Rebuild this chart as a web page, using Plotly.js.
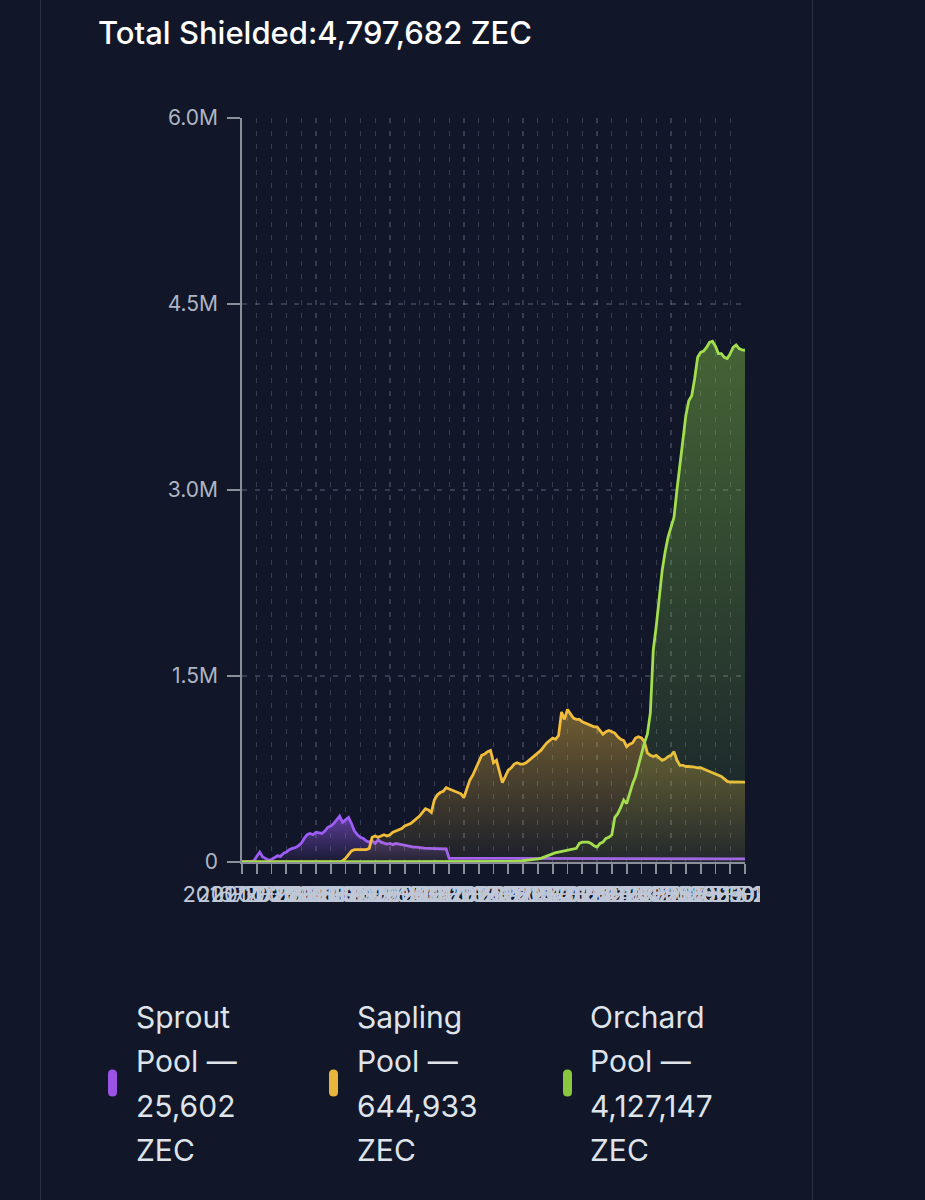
<!DOCTYPE html>
<html>
<head>
<meta charset="utf-8">
<script src="https://cdn.plot.ly/plotly-3.0.1.min.js"></script>
<style>
  html, body { margin:0; padding:0; background:#111729; width:925px; height:1200px; overflow:hidden; }
  .border { position:absolute; top:0; width:1px; height:1200px; background:#2b3244; }
  #chart { position:absolute; left:0; top:0; width:760px; height:1200px; overflow:hidden; }
</style>
</head>
<body>
<div class="border" style="left:40px"></div>
<div class="border" style="left:812px"></div>
<div id="chart"></div>
<script>
// ---- Data (values in millions of ZEC) ----
const sproutPool = [
  0, 0, 0.002, 0.005, 0.01, 0.05, 0.08, 0.04, 0.03, 0.015,
  0.02, 0.035, 0.05, 0.045, 0.07, 0.08, 0.1, 0.11, 0.115, 0.13,
  0.15, 0.19, 0.22, 0.23, 0.22, 0.24, 0.235, 0.23, 0.25, 0.28,
  0.29, 0.31, 0.34, 0.37, 0.32, 0.34, 0.36, 0.31, 0.25, 0.22,
  0.2, 0.19, 0.17, 0.16, 0.17, 0.15, 0.18, 0.16, 0.15, 0.145,
  0.15, 0.14, 0.15, 0.145, 0.14, 0.13, 0.13, 0.125, 0.12, 0.12,
  0.115, 0.115, 0.11, 0.11, 0.11, 0.108, 0.107, 0.106, 0.105, 0.105,
  0.03, 0.03, 0.03, 0.03, 0.03, 0.03, 0.03, 0.03, 0.03, 0.03,
  0.03, 0.03, 0.03, 0.03, 0.03, 0.03, 0.03, 0.03, 0.03, 0.03,
  0.03, 0.03, 0.03, 0.03, 0.03, 0.03, 0.03, 0.03, 0.03, 0.03,
  0.029, 0.029, 0.029, 0.029, 0.029, 0.029, 0.029, 0.029, 0.029, 0.029,
  0.029, 0.029, 0.029, 0.029, 0.029, 0.029, 0.029, 0.029, 0.029, 0.029,
  0.028, 0.028, 0.028, 0.028, 0.028, 0.028, 0.028, 0.028, 0.028, 0.028,
  0.028, 0.028, 0.028, 0.028, 0.028, 0.028, 0.028, 0.028, 0.028, 0.028,
  0.027, 0.027, 0.027, 0.027, 0.027, 0.027, 0.027, 0.027, 0.027, 0.027,
  0.026, 0.026, 0.026, 0.026, 0.026, 0.026, 0.026, 0.026, 0.026, 0.026,
  0.026, 0.026, 0.026, 0.026, 0.026, 0.026, 0.026, 0.026, 0.026, 0.026,
  0.0256
];
const saplingPool = [
  0, 0, 0, 0, 0, 0, 0, 0, 0, 0,
  0, 0, 0, 0, 0, 0, 0, 0, 0, 0,
  0, 0, 0, 0, 0, 0, 0, 0, 0, 0,
  0, 0, 0, 0, 0.01, 0.03, 0.06, 0.09, 0.1, 0.1,
  0.1, 0.1, 0.1, 0.11, 0.2, 0.21, 0.2, 0.21, 0.22, 0.21,
  0.22, 0.24, 0.25, 0.26, 0.27, 0.29, 0.3, 0.31, 0.33, 0.35,
  0.37, 0.4, 0.43, 0.42, 0.4, 0.5, 0.54, 0.56, 0.57, 0.6,
  0.59, 0.58, 0.57, 0.56, 0.55, 0.52, 0.6, 0.66, 0.7, 0.75,
  0.8, 0.86, 0.87, 0.89, 0.9, 0.8, 0.82, 0.72, 0.64, 0.69,
  0.74, 0.76, 0.79, 0.8, 0.79, 0.79, 0.8, 0.82, 0.84, 0.86,
  0.88, 0.9, 0.93, 0.96, 0.98, 1.0, 0.99, 1.02, 1.21, 1.15,
  1.23, 1.19, 1.16, 1.15, 1.15, 1.13, 1.12, 1.11, 1.1, 1.09,
  1.09, 1.06, 1.03, 1.05, 1.06, 1.05, 1.04, 1.01, 0.99, 0.98,
  0.93, 0.95, 0.96, 1.0, 1.01, 1.0, 0.97, 0.88, 0.86, 0.85,
  0.86, 0.84, 0.82, 0.83, 0.85, 0.86, 0.89, 0.82, 0.78, 0.78,
  0.77, 0.77, 0.77, 0.765, 0.76, 0.76, 0.75, 0.74, 0.73, 0.72,
  0.71, 0.7, 0.69, 0.67, 0.65, 0.645, 0.645, 0.645, 0.645, 0.645,
  0.6449
];
const orchardPool = [
  0, 0, 0, 0, 0, 0, 0, 0, 0, 0,
  0, 0, 0, 0, 0, 0, 0, 0, 0, 0,
  0, 0, 0, 0, 0, 0, 0, 0, 0, 0,
  0, 0, 0, 0, 0, 0, 0, 0, 0, 0,
  0, 0, 0, 0, 0, 0, 0, 0, 0, 0,
  0, 0, 0, 0, 0, 0, 0, 0, 0, 0,
  0, 0, 0, 0, 0, 0, 0, 0, 0, 0,
  0, 0, 0, 0, 0, 0, 0, 0, 0, 0,
  0, 0, 0, 0, 0, 0, 0, 0, 0, 0,
  0, 0, 0.002, 0.004, 0.006, 0.01, 0.012, 0.015, 0.015, 0.02,
  0.025, 0.03, 0.04, 0.05, 0.06, 0.07, 0.075, 0.08, 0.085, 0.09,
  0.1, 0.1, 0.105, 0.11, 0.15, 0.16, 0.16, 0.16, 0.15, 0.13,
  0.12, 0.15, 0.16, 0.19, 0.2, 0.22, 0.36, 0.39, 0.44, 0.5,
  0.47, 0.56, 0.63, 0.69, 0.77, 0.87, 0.96, 1.03, 1.2, 1.71,
  1.9, 2.12, 2.35, 2.5, 2.62, 2.7, 2.78, 3.0, 3.2, 3.38,
  3.6, 3.72, 3.76, 3.9, 4.07, 4.11, 4.12, 4.15, 4.19, 4.2,
  4.16, 4.1, 4.1, 4.07, 4.06, 4.1, 4.15, 4.17, 4.14, 4.13,
  4.1271
];
// x tick labels (one every 5 data points)
const xTickLabels = [
  "2016-10-28","2017-02-10","2017-05-25","2017-09-06","2017-12-19",
  "2018-04-02","2018-07-15","2018-10-27","2019-02-08","2019-05-23",
  "2019-09-04","2019-12-17","2020-03-30","2020-07-12","2020-10-24",
  "2021-02-05","2021-05-20","2021-09-01","2021-12-14","2022-03-28",
  "2022-07-10","2022-10-22","2023-02-03","2023-05-18","2023-08-30",
  "2023-12-12","2024-03-25","2024-07-07","2024-10-19","2025-01-31",
  "2025-05-15","2025-08-01","2025-09-20","2025-10-20","2025-11-10"
];
const yTickVals = [0, 1.5, 3.0, 4.5, 6.0];
const yTickLabels = ["0", "1.5M", "3.0M", "4.5M", "6.0M"];
const poolNames = ["Sprout", "Sapling", "Orchard"];
const poolTotals = ["25,602", "644,933", "4,127,147"];
const totalShielded = "4,797,682";

// ---- Styling ----
const FONT = 'Inter, "Noto Sans", sans-serif';
const lineColors = ["#9d5cf5", "#f3bd3c", "#a3de4e"];
const pillColors = ["#9b53e6", "#e8b53c", "#8cc63e"];
const rgbs = ["157,92,245", "243,189,60", "140,205,70"];
const topAlpha = [0.55, 0.42, 0.42];
const series = [sproutPool, saplingPool, orchardPool];

// plot area in px (for placing legend items)
const L = 242, R = 745, T = 118, B = 862;
const px = x => (x - L) / (R - L);
const py = y => (B - y) / (B - T);

const traces = series.map((vals, k) => ({
  type: "scatter",
  mode: "lines",
  y: vals,
  name: poolNames[k],
  line: { color: lineColors[k], width: 2.8, shape: "linear" },
  fill: "tozeroy",
  fillgradient: {
    type: "vertical",
    colorscale: [[0, "rgba(" + rgbs[k] + ",0.05)"], [1, "rgba(" + rgbs[k] + "," + topAlpha[k] + ")"]]
  },
  hoverinfo: "skip",
  showlegend: false
}));

const annotations = [];
const shapes = [];
const legendX = [134, 355, 588];
const pillX = [112.5, 333.5, 567.5];
const lineY = [1017, 1061, 1106, 1150];
poolNames.forEach((nm, k) => {
  const lines = [nm, "Pool —", poolTotals[k], "ZEC"];
  lines.forEach((t, j) => {
    annotations.push({
      xref: "paper", yref: "paper", x: px(legendX[k]), y: py(lineY[j]),
      xanchor: "left", yanchor: "middle", showarrow: false, text: t,
      font: { family: FONT, size: 30, color: "#dfe3ea" }
    });
  });
  shapes.push({
    type: "path", xref: "paper", yref: "paper",
    xsizemode: "pixel", ysizemode: "pixel",
    xanchor: px(pillX[k]), yanchor: py(1083),
    path: "M-4.5,-9 L-4.5,9 Q-4.5,13.5 0,13.5 Q4.5,13.5 4.5,9 L4.5,-9 Q4.5,-13.5 0,-13.5 Q-4.5,-13.5 -4.5,-9 Z",
    fillcolor: pillColors[k], line: { width: 0 }
  });
});

const layout = {
  width: 760, height: 1200,
  margin: { l: L, r: 760 - R, t: T, b: 1200 - B, pad: 0 },
  paper_bgcolor: "rgba(0,0,0,0)",
  plot_bgcolor: "rgba(0,0,0,0)",
  font: { family: FONT },
  title: {
    text: "Total Shielded:" + totalShielded + " ZEC",
    xref: "container", yref: "container",
    x: 98 / 760, xanchor: "left", y: 1 - 33 / 1200, yanchor: "middle",
    font: { family: FONT, size: 31, color: "#ffffff", weight: 500 }
  },
  xaxis: {
    range: [0, sproutPool.length - 1],
    tickmode: "array",
    tickvals: xTickLabels.map((_, i) => i * 5),
    ticktext: xTickLabels,
    tickangle: 0,
    ticklabeloverflow: "allow",
    ticks: "outside", ticklen: 10, tickwidth: 1.8, tickcolor: "#8a8f99",
    ticklabelstandoff: 2,
    showline: true, linecolor: "#8a8f99", linewidth: 1.8,
    showgrid: true, gridcolor: "rgba(150,162,188,0.28)", griddash: "5px,8px", gridwidth: 1.2,
    zeroline: false,
    tickfont: { family: FONT, size: 22, color: "#c0c8d8" },
    fixedrange: true
  },
  yaxis: {
    range: [0, 6],
    tickmode: "array",
    tickvals: yTickVals,
    ticktext: yTickLabels,
    ticks: "outside", ticklen: 13, tickwidth: 1.8, tickcolor: "#8a8f99",
    ticklabelstandoff: 5,
    showline: true, linecolor: "#8a8f99", linewidth: 1.8,
    showgrid: true, gridcolor: "rgba(150,162,188,0.28)", griddash: "5px,8px", gridwidth: 1.2,
    zeroline: false,
    tickfont: { family: FONT, size: 21, color: "#aeb5c2" },
    fixedrange: true
  },
  annotations: annotations,
  shapes: shapes
};

Plotly.newPlot("chart", traces, layout, { staticPlot: true, displayModeBar: false });
</script>
</body>
</html>
